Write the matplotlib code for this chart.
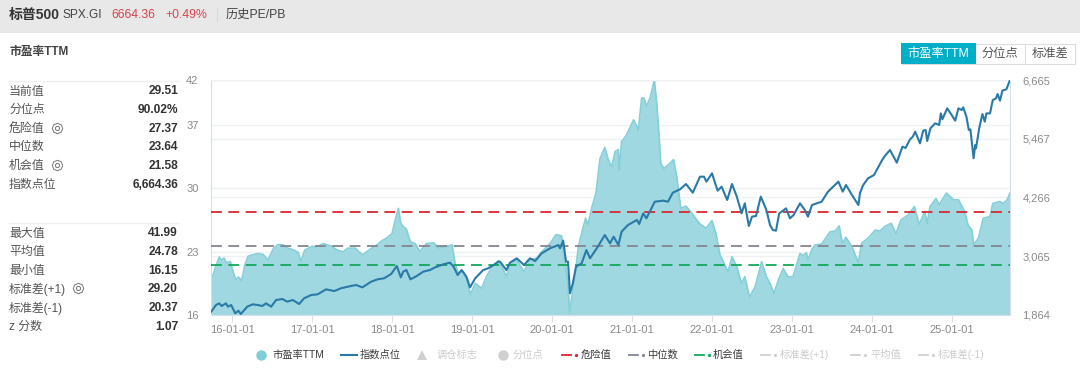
import matplotlib
matplotlib.use('Agg')
import matplotlib.pyplot as plt
from matplotlib.patches import Rectangle

plt.rcParams['font.family'] = ['Liberation Sans', 'Noto Sans CJK SC', 'DejaVu Sans']

# x values are years since 2000
pe_years = [15.74, 15.77, 15.81, 15.84, 15.87, 15.90, 15.93, 15.98, 16.02, 16.05, 16.08, 16.12, 16.16, 16.20, 16.27,
            16.33, 16.39, 16.45, 16.52, 16.58, 16.64, 16.70, 16.77, 16.83, 16.86, 16.91, 17.0, 17.06, 17.14, 17.25,
            17.31, 17.39, 17.45, 17.54, 17.63, 17.73, 17.81, 17.87, 17.93, 18.0, 18.04, 18.08, 18.11, 18.14, 18.18,
            18.23, 18.29, 18.35, 18.43, 18.52, 18.58, 18.66, 18.75, 18.79, 18.83, 18.89, 18.93, 18.98, 19.04, 19.12,
            19.18, 19.25, 19.33, 19.35, 19.43, 19.475, 19.56, 19.65, 19.725, 19.81, 19.87, 19.975, 20.05, 20.12, 20.16,
            20.2, 20.22, 20.245, 20.29, 20.33, 20.38, 20.42, 20.45, 20.5, 20.55, 20.6, 20.66, 20.7, 20.745, 20.79,
            20.83, 20.84, 20.87, 20.93, 21.02, 21.08, 21.12, 21.15, 21.18, 21.225, 21.28, 21.31, 21.34, 21.36, 21.4,
            21.45, 21.52, 21.56, 21.61, 21.675, 21.75, 21.84, 21.925, 22.0, 22.05, 22.1, 22.2, 22.25, 22.31, 22.37,
            22.41, 22.47, 22.54, 22.62, 22.68, 22.725, 22.775, 22.83, 22.89, 22.95, 23.01, 23.1, 23.14, 23.18, 23.2, 23.25, 23.29,
            23.37, 23.475, 23.54, 23.59, 23.63, 23.675, 23.75, 23.83, 23.87, 23.95, 24.04, 24.1, 24.16, 24.24, 24.3, 24.36, 24.45,
            24.53, 24.59, 24.66, 24.69, 24.725, 24.8, 24.84, 24.93, 25.02, 25.08, 25.16, 25.2, 25.25, 25.27, 25.33,
            25.39, 25.475, 25.51, 25.6, 25.64, 25.69, 25.725]
pe_values = [19.95, 20.6, 21.7, 22.4, 22.1, 22.3, 21.8, 21.9, 20.6, 19.9, 20.2, 19.8, 21.5, 22.5, 22.7,
             22.8, 22.7, 22.1, 23.4, 23.8, 23.75, 23.4, 23.2, 22.9, 21.9, 23.2, 23.6, 23.55, 23.9, 23.6,
             23.2, 23.0, 23.4, 23.4, 22.65, 23.3, 23.75, 24.2, 24.5, 25.0, 26.5, 27.8, 26.15, 25.8, 25.5,
             24.1, 23.9, 23.0, 23.9, 24.0, 23.4, 23.55, 23.75, 21.7, 20.6, 20.8, 20.05, 18.3, 19.5, 18.95,
             20.25, 21.35, 22.0, 21.8, 20.25, 21.7, 22.1, 20.8, 22.1, 22.3, 23.0, 23.9, 24.9, 24.75, 22.1,
             19.5, 16.2, 17.85, 20.6, 23.55, 25.4, 26.7, 26.0, 28.0, 29.5, 33.3, 34.55, 33.3, 32.4, 34.1,
             34.3, 32.0, 35.2, 35.9, 37.6, 36.5, 40.0, 40.0, 39.1, 40.0, 41.99, 39.4, 35.7, 32.8, 32.2,
             32.6, 33.2, 31.3, 27.8, 28.05, 27.25, 26.15, 25.6, 26.45, 25.0, 22.65, 20.8, 22.45, 21.35, 19.5,
             20.25, 18.0, 19.15, 21.9, 20.25, 19.5, 18.4, 19.9, 21.15, 20.25, 20.2, 22.8, 22.6, 22.9, 22.1, 23.3, 23.75,
             23.85, 25.2, 25.3, 25.85, 23.95, 24.6, 23.55, 21.8, 23.95, 24.5, 25.4, 25.3, 25.8, 26.15, 25.0, 26.5, 27.05,
             28.0, 26.05, 27.45, 26.15, 28.0, 28.9, 28.2, 29.5, 28.75, 28.75, 27.45, 25.95, 25.4, 23.75, 24.5,
             26.7, 26.9, 28.35, 28.55, 28.35, 28.75, 29.51]

index_years = [15.74, 15.8, 15.84, 15.87, 15.925, 15.95, 15.99, 16.04, 16.08, 16.11, 16.19, 16.26, 16.32, 16.38, 16.425,
               16.49, 16.55, 16.63, 16.69, 16.76, 16.84, 16.9, 16.99, 17.07, 17.175, 17.28, 17.36, 17.45, 17.55, 17.63,
               17.74, 17.82, 17.9, 17.99, 18.06, 18.11, 18.14, 18.18, 18.23, 18.31, 18.39, 18.475, 18.54, 18.64, 18.725,
               18.77, 18.82, 18.87, 18.93, 18.975, 19.04, 19.14, 19.2, 19.27, 19.33, 19.35, 19.43, 19.475, 19.56, 19.65,
               19.725, 19.79, 19.87, 19.975, 20.08, 20.1, 20.14, 20.175, 20.2, 20.225, 20.26, 20.3, 20.37, 20.43, 20.475,
               20.56, 20.66, 20.725, 20.77, 20.83, 20.87, 20.95, 21.06, 21.09, 21.14, 21.18, 21.285, 21.39, 21.45, 21.51,
               21.6, 21.675, 21.76, 21.85, 21.9, 21.93, 22.0, 22.07, 22.12, 22.19, 22.25, 22.31, 22.37, 22.41, 22.46,
               22.5, 22.55, 22.61, 22.68, 22.725, 22.76, 22.8, 22.84, 22.87, 22.925, 22.975, 23.02, 23.1, 23.16, 23.2,
               23.25, 23.37, 23.45, 23.58, 23.635, 23.675, 23.75, 23.83, 23.85, 23.89, 23.95, 24.025, 24.12, 24.16, 24.225,
               24.31, 24.38, 24.42, 24.475, 24.51, 24.54, 24.6, 24.64, 24.67, 24.69, 24.73, 24.79, 24.84, 24.86, 24.88,
               24.94, 24.99, 25.04, 25.08, 25.12, 25.14, 25.18, 25.21, 25.23, 25.27, 25.29, 25.3, 25.34, 25.38, 25.41,
               25.43, 25.475, 25.51, 25.55, 25.57, 25.6, 25.63, 25.68, 25.725]
index_values = [1932, 2068, 2102, 2048, 2102, 2034, 2068, 1898, 1952, 1884, 2034, 2082, 2068, 2048, 2102,
                2034, 2170, 2191, 2136, 2170, 2089, 2204, 2273, 2286, 2388, 2354, 2409, 2443, 2477, 2429,
                2545, 2593, 2613, 2702, 2865, 2634, 2749, 2783, 2593, 2661, 2749, 2783, 2838, 2899, 2933,
                2851, 2681, 2783, 2647, 2429, 2613, 2783, 2817, 2885, 2954, 2954, 2783, 2933, 3022, 2885,
                3022, 2967, 3124, 3226, 3294, 3226, 3383, 2954, 2954, 2307, 2511, 2851, 2919, 3192, 3022,
                3226, 3498, 3328, 3464, 3294, 3566, 3703, 3805, 3723, 3941, 3839, 4179, 4200, 4179, 4363,
                4431, 4540, 4363, 4690, 4690, 4588, 4758, 4404, 4486, 4214, 4540, 4282, 3941, 4146, 3682,
                3873, 3887, 4282, 4009, 3703, 3601, 3587, 3941, 3975, 4043, 3839, 3907, 4146, 4009, 3873,
                4111, 4179, 4384, 4588, 4384, 4520, 4315, 4111, 4357, 4520, 4656, 4724, 5010, 5112, 5235,
                4976, 5303, 5277, 5452, 5507, 5610, 5371, 5631, 5644, 5419, 5678, 5780, 5745, 5983, 5862,
                6086, 5965, 5834, 6086, 6052, 6107, 5917, 5644, 5657, 5065, 5337, 5269, 5678, 5970, 5813,
                5983, 5983, 6256, 6291, 6379, 6242, 6449, 6475, 6664.36]

danger = 27.37
median = 23.64
chance = 21.58

x_ticks = [16, 17, 18, 19, 20, 21, 22, 23, 24, 25]
x_labels = ['16-01-01', '17-01-01', '18-01-01', '19-01-01', '20-01-01',
            '21-01-01', '22-01-01', '23-01-01', '24-01-01', '25-01-01']
pe_ticks = [16, 23, 30, 37, 42]
index_ticks = [1864, 3065, 4266, 5467, 6665]

stats_top = [('当前值', '29.51'), ('分位点', '90.02%'), ('危险值', '27.37'),
             ('中位数', '23.64'), ('机会值', '21.58'), ('指数点位', '6,664.36')]
stats_bottom = [('最大值', '41.99'), ('平均值', '24.78'), ('最小值', '16.15'),
                ('标准差(+1)', '29.20'), ('标准差(-1)', '20.37'), ('z 分数', '1.07')]

W, H = 1080, 369
fig = plt.figure(figsize=(W / 100, H / 100), dpi=100)

# page layer in pixel units for header, side panel, tabs and legend
page = fig.add_axes([0, 0, 1, 1])
page.set_xlim(0, W)
page.set_ylim(H, 0)
page.axis('off')

page.add_patch(Rectangle((0, 0), W, 33, color='#e8e8e8', lw=0))
page.text(9, 14.5, '标普500', fontsize=10, fontweight='bold', color='#333333', va='center')
page.text(62.5, 14.5, 'SPX.GI', fontsize=8.6, color='#444444', va='center')
page.text(111, 14.5, '6664.36', fontsize=8.8, color='#d9434e', va='center')
page.text(165, 14.5, '+0.49%', fontsize=8.8, color='#d9434e', va='center')
page.plot([216.5, 216.5], [8, 21], color='#d8d8d8', lw=0.8)
page.text(226, 14.5, '历史PE/PB', fontsize=8.8, color='#444444', va='center')
page.text(9, 52.5, '市盈率TTM', fontsize=8.5, fontweight='bold', color='#444444', va='center')

def draw_stats(rows, y0, step):
    for i, (name, val) in enumerate(rows):
        y = y0 + i * step
        page.text(9, y, name, fontsize=8.6, color='#555555', va='center')
        page.text(178, y, val, fontsize=8.6, fontweight='bold', color='#333333', va='center', ha='right')

def gear(x, y):
    page.plot([x], [y], marker=(8, 0, 0), ms=7.5, mfc='white', mec='#777777', mew=0.7)
    page.plot([x], [y], marker='o', ms=3, mfc='white', mec='#777777', mew=0.7)

page.plot([9, 178], [80.5, 80.5], color='#efefef', lw=1)
page.plot([9, 178], [223, 223], color='#efefef', lw=1)
draw_stats(stats_top, 91.5, 18.6)
draw_stats(stats_bottom, 233.5, 18.6)
gear(57, 127.5)
gear(57, 164.5)
gear(78, 287.5)

# tabs
page.add_patch(Rectangle((901.5, 43.5), 173, 20, fc='white', ec='#dddddd', lw=0.8))
page.add_patch(Rectangle((901, 43), 75, 21, color='#00aec7', lw=0))
page.plot([1024.5, 1024.5], [44, 63], color='#dddddd', lw=0.8)
page.text(938.5, 54, '市盈率TTM', fontsize=8.8, color='white', ha='center', va='center')
page.text(1000, 54, '分位点', fontsize=8.8, color='#555555', ha='center', va='center')
page.text(1050, 54, '标准差', fontsize=8.8, color='#555555', ha='center', va='center')

# legend drawn by hand, the original has dash-dot swatches and greyed entries
legend_y = 355
def leg_text(x, s, on=True):
    page.text(x, legend_y, s, fontsize=7.4, va='center', color='#3a3a3a' if on else '#cccccc')

def leg_dash(x, color):
    page.plot([x, x + 9], [legend_y, legend_y], color=color, lw=1.3)
    page.plot([x + 13.5], [legend_y], marker='o', ms=1.3, color=color)

page.plot([261], [legend_y], marker='o', ms=7.5, color='#7fcdd6', mew=0)
leg_text(272, '市盈率TTM')
page.plot([341, 357], [legend_y, legend_y], color='#2a7aa8', lw=1.5)
leg_text(360, '指数点位')
page.plot([422], [legend_y], marker='^', ms=6.5, color='#d0d0d0', mew=0)
leg_text(437, '调仓标志', False)
page.plot([503], [legend_y], marker='o', ms=7.5, color='#d0d0d0', mew=0)
leg_text(513, '分位点', False)
leg_dash(562, '#d9262e')
leg_text(581, '危险值')
leg_dash(629, '#7f8694')
leg_text(647, '中位数')
leg_dash(695, '#12a85c')
leg_text(713, '机会值')
leg_dash(761, '#d0d0d0')
leg_text(780, '标准差(+1)', False)
leg_dash(851, '#d0d0d0')
leg_text(870, '平均值', False)
leg_dash(919, '#d0d0d0')
leg_text(938, '标准差(-1)', False)

# chart: right axis ticks and grid at the bottom, then the PE area, then the index line
rect = [211 / W, (H - 315) / H, 799 / W, 235 / H]
ax_right = fig.add_axes(rect)
ax_right.set_xlim(15.7375, 25.725)
ax_right.set_xticks([])
ax_right.yaxis.tick_right()
ax_right.set_ylim(1864, 6665)
ax_right.set_yticks(index_ticks)
ax_right.set_yticklabels([f'{v:,}' for v in index_ticks])
ax_right.grid(axis='y', color='#eef0f3', lw=1)
ax_right.tick_params(axis='y', length=0, pad=9, labelsize=8, labelcolor='#8a8a8a')
for side in ax_right.spines:
    ax_right.spines[side].set_visible(False)

ax = fig.add_axes(rect)
ax.patch.set_alpha(0)
ax.set_xlim(15.7375, 25.725)
ax.set_ylim(16, 42)
ax.set_yticks(pe_ticks)
ax.set_xticks(x_ticks)
ax.set_xticklabels(x_labels)
ax.grid(axis='y', color='#eef0f3', lw=1)
ax.set_axisbelow(True)
ax.tick_params(axis='y', length=0, pad=9, labelsize=8, labelcolor='#8a8a8a')
ax.tick_params(axis='x', length=5, width=0.8, color='#d5dfee', pad=2, labelsize=8, labelcolor='#8a8a8a')
for side in ['left', 'bottom', 'right']:
    ax.spines[side].set_color('#d5dfee')
ax.spines['top'].set_color('#eef0f3')

ax.fill_between(pe_years, pe_values, 16, color='#9fd8e0', lw=0, zorder=2)
ax.plot(pe_years, pe_values, color='#85d0d8', lw=1.2, zorder=2.1)
ax.axhline(danger, color='#d9262e', lw=1.3, dashes=(6, 3.6), zorder=3)
ax.axhline(median, color='#85858f', lw=1.3, dashes=(6, 3.6), zorder=3)
ax.axhline(chance, color='#12a85c', lw=1.3, dashes=(6, 3.6), zorder=3)

ax_line = fig.add_axes(rect)
ax_line.patch.set_alpha(0)
ax_line.set_xlim(15.7375, 25.725)
ax_line.set_ylim(1864, 6665)
ax_line.axis('off')
ax_line.plot(index_years, index_values, color='#2a7aa8', lw=1.5)

fig.savefig('out.png', dpi=100)
